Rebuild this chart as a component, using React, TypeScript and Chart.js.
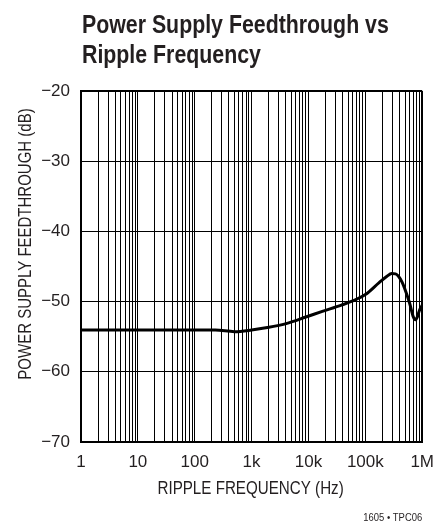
import React, { useEffect, useRef } from "react";
import { Chart, registerables } from "chart.js";

Chart.register(...registerables);

const titleLines = ["Power Supply Feedthrough vs", "Ripple Frequency"];
const xAxisTitle = "RIPPLE FREQUENCY (Hz)";
const yAxisTitle = "POWER SUPPLY FEEDTHROUGH (dB)";
const footnote = "1605 \u2022 TPC06";

const frequencies = [
  1, 10, 100, 230, 500, 1000, 1900, 4200, 9000, 17500, 38000, 60000, 100000,
  175000, 240000, 290000, 340000, 380000, 440000, 490000, 600000, 700000,
  760000, 820000, 890000, 1000000,
];
const feedthrough = [
  -54.05, -54.05, -54.05, -54.05, -54.28, -54.05, -53.7, -53.1, -52.2, -51.4,
  -50.5, -49.9, -49.0, -47.3, -46.4, -46.0, -46.05, -46.35, -47.2, -48.1,
  -50.2, -52.2, -52.6, -52.2, -51.3, -50.5,
];

const xTickValues = [1, 10, 100, 1000, 10000, 100000, 1000000];
const xTickLabels = ["1", "10", "100", "1k", "10k", "100k", "1M"];
const yMin = -70;
const yMax = -20;
const yStep = 10;

const FONT = "'Liberation Sans', Arial, Helvetica, sans-serif";
const NARROW = 0.82;
const INK = "#231f20";

function narrowText(ctx: any, text: string, x: number, y: number, font: string, align: string, rotate = 0) {
  ctx.save();
  ctx.font = font;
  ctx.fillStyle = INK;
  ctx.textAlign = align;
  ctx.textBaseline = "alphabetic";
  ctx.translate(x, y);
  if (rotate) ctx.rotate(rotate);
  ctx.scale(NARROW, 1);
  ctx.fillText(text, 0, 0);
  ctx.restore();
}

const textPlugin = {
  id: "extraText",
  afterDraw(chart: any) {
    const { ctx, chartArea } = chart;
    const midX = (chartArea.left + chartArea.right) / 2;
    narrowText(ctx, titleLines[0], chartArea.left + 1, 33, `bold 26px ${FONT}`, "left");
    narrowText(ctx, titleLines[1], chartArea.left + 1, 63, `bold 26px ${FONT}`, "left");
    narrowText(ctx, xAxisTitle, midX - 1, 494, `18.5px ${FONT}`, "center");
    narrowText(ctx, yAxisTitle, 30.5, 244, `18.3px ${FONT}`, "center", -Math.PI / 2);
    narrowText(ctx, footnote, chartArea.right, 521, `11.5px ${FONT}`, "right");
  },
};

export default function App() {
  const canvasRef = useRef<HTMLCanvasElement | null>(null);

  useEffect(() => {
    const canvas = canvasRef.current;
    if (!canvas) return;
    const points = frequencies.map((f, i) => ({ x: f, y: feedthrough[i] }));
    const chart = new Chart(canvas, {
      type: "line",
      data: {
        datasets: [
          {
            data: points,
            borderColor: "#000",
            borderWidth: 3,
            pointRadius: 0,
            fill: false,
            cubicInterpolationMode: "monotone",
          },
        ],
      },
      options: {
        responsive: false,
        animation: false,
        layout: { padding: { left: 0, top: 91, right: 11, bottom: 0 } },
        plugins: {
          legend: { display: false },
          tooltip: { enabled: false },
          title: { display: false },
        },
        scales: {
          x: {
            type: "logarithmic",
            min: 1,
            max: 1000000,
            afterBuildTicks: (scale: any) => {
              const ticks: any[] = [];
              for (let k = 0; k < 6; k++) {
                for (let d = 1; d <= 9; d++) ticks.push({ value: d * Math.pow(10, k) });
              }
              ticks.push({ value: 1000000 });
              scale.ticks = ticks;
            },
            afterFit: (scale: any) => {
              scale.height = 83;
            },
            ticks: {
              autoSkip: false,
              maxRotation: 0,
              minRotation: 0,
              padding: 10,
              color: INK,
              font: { family: FONT, size: 17 },
              callback: (value: any) => {
                const idx = xTickValues.findIndex((v) => Math.abs(v - Number(value)) < 1e-6 * v);
                return idx >= 0 ? xTickLabels[idx] : "";
              },
            },
            grid: {
              color: "#000",
              drawTicks: false,
              lineWidth: (ctx: any) =>
                ctx.tick && (ctx.tick.value === 1 || ctx.tick.value === 1000000) ? 2 : 1,
            },
            border: { display: true, color: "#000", width: 2 },
          },
          y: {
            type: "linear",
            min: yMin,
            max: yMax,
            afterFit: (scale: any) => {
              scale.width = 81;
            },
            ticks: {
              stepSize: yStep,
              padding: 11,
              color: INK,
              font: { family: FONT, size: 17 },
              callback: (value: any) => {
                const v = Number(value);
                return (v < 0 ? "\u2212" : "") + Math.abs(v);
              },
            },
            grid: {
              color: "#000",
              drawTicks: false,
              lineWidth: (ctx: any) =>
                ctx.tick && (ctx.tick.value === yMin || ctx.tick.value === yMax) ? 2 : 1,
            },
            border: { display: true, color: "#000", width: 2 },
          },
        },
      },
      plugins: [textPlugin],
    });
    return () => chart.destroy();
  }, []);

  return (
    <div style={{ position: "absolute", left: 0, top: 0, width: 444, height: 525, background: "#fff" }}>
      <canvas ref={canvasRef} width={444} height={525} style={{ display: "block" }} />
    </div>
  );
}
